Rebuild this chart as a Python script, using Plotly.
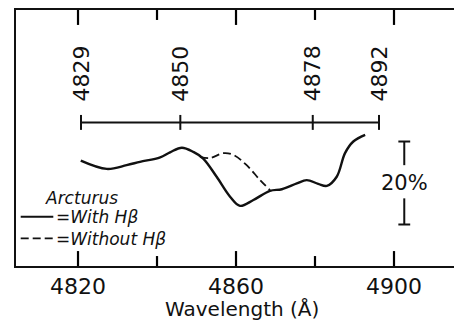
import plotly.graph_objects as go

# Arcturus spectrum near H-beta, relative intensity in percent
wavelength_with = [4820.7, 4827.3, 4832.3, 4835.7, 4840.8, 4843.3, 4846.3, 4849.2,
                   4851.7, 4855.1, 4858.5, 4861.0, 4864.4, 4868.6, 4871.6, 4875.4,
                   4877.9, 4880.8, 4883.0, 4885.5, 4887.6, 4889.7, 4892.7]
flux_with = [25.4, 23.4, 24.3, 25.1, 26.2, 27.4, 28.5, 27.5,
             25.9, 21.5, 16.7, 14.5, 15.9, 18.1, 18.5, 19.9,
             20.7, 19.8, 19.3, 21.5, 27.2, 30.0, 31.6]

wavelength_without = [4850.9, 4853.4, 4856.8, 4859.3, 4862.7, 4866.1, 4868.6]
flux_without = [26.3, 26.0, 27.2, 26.8, 24.3, 20.7, 18.3]

# bracket scale along the top
bracket_values = [4829, 4850, 4878, 4892]

# wavelength axis: labelled ticks, with unlabelled ticks between them
major_ticks = [4820, 4860, 4900]
minor_ticks = [4840, 4880]

# intensity scale bar (percent)
scale_bar_pct = 20

FONT = "DejaVu Sans"
INK = "#111111"
Y_MAX = 61.69

fig = go.Figure()

# spectrum with H-beta
fig.add_trace(go.Scatter(
    x=wavelength_with, y=flux_with, mode="lines",
    line=dict(color=INK, width=2.4, shape="spline", smoothing=1.0),
    hoverinfo="skip"))

# spectrum without H-beta
fig.add_trace(go.Scatter(
    x=wavelength_without, y=flux_without, mode="lines",
    line=dict(color=INK, width=1.8, shape="spline", smoothing=1.0, dash="8px,4px"),
    hoverinfo="skip"))

# bracket: horizontal bar with end/inner ticks, on its own top scale
bracket_y = 34.6
bracket_half = 1.8
bx, by = [bracket_values[0], bracket_values[-1], None], [bracket_y, bracket_y, None]
for v in bracket_values:
    bx += [v, v, None]
    by += [bracket_y - bracket_half, bracket_y + bracket_half, None]
fig.add_trace(go.Scatter(
    x=bx, y=by, xaxis="x2", yaxis="y", mode="lines",
    line=dict(color=INK, width=2), hoverinfo="skip"))

# 20% scale bar, split around its label
sb_x = 4902.6
sb_lo, sb_hi = 10.0, 10.0 + scale_bar_pct
sb_mid = (sb_lo + sb_hi) / 2
cap = 1.5
sx = [sb_x, sb_x, None, sb_x, sb_x, None,
      sb_x - cap, sb_x + cap, None, sb_x - cap, sb_x + cap]
sy = [sb_hi, sb_mid + 4.3, None, sb_mid - 3.7, sb_lo, None,
      sb_hi, sb_hi, None, sb_lo, sb_lo]
fig.add_trace(go.Scatter(x=sx, y=sy, mode="lines",
                         line=dict(color=INK, width=2), hoverinfo="skip"))

annotations = []
for v in bracket_values:
    annotations.append(dict(
        x=v, xref="x2", y=46.4, yref="y", text=str(v), textangle=-90,
        showarrow=False, font=dict(family=FONT, size=22, color=INK)))

annotations.append(dict(
    x=sb_x, y=sb_mid, xref="x", yref="y", text=f"{scale_bar_pct}%",
    showarrow=False, font=dict(family=FONT, size=21, color=INK)))

# key
def px(xp):
    return (xp - 16) / 438

def py(yp):
    return (266 - yp) / 256

italic = dict(family=FONT, size=17, color=INK, style="italic")
annotations += [
    dict(x=px(43), y=py(197.5), xref="paper", yref="paper", text="Arcturus",
         xanchor="left", yanchor="middle", showarrow=False, font=italic),
    dict(x=px(54), y=py(216.5), xref="paper", yref="paper", text="=With Hβ",
         xanchor="left", yanchor="middle", showarrow=False, font=italic),
    dict(x=px(54), y=py(238.5), xref="paper", yref="paper", text="=Without Hβ",
         xanchor="left", yanchor="middle", showarrow=False, font=italic),
    dict(x=px(241.7), y=py(308.5), xref="paper", yref="paper", text="Wavelength (Å)",
         xanchor="center", yanchor="middle", showarrow=False,
         font=dict(family=FONT, size=20, color=INK)),
]

shapes = [
    dict(type="line", xref="paper", yref="paper", x0=px(20.7), x1=px(53.3),
         y0=py(216.7), y1=py(216.7), line=dict(color=INK, width=2)),
    dict(type="line", xref="paper", yref="paper", x0=px(20.7), x1=px(55),
         y0=py(238.3), y1=py(238.3), line=dict(color=INK, width=1.8, dash="8px,4px")),
]

# inward tick marks on the bottom and top edges, placed on the wavelength scale
for values, length in ((major_ticks, 3.6), (minor_ticks, 2.4)):
    for v in values:
        for y0, y1 in ((0, length), (Y_MAX, Y_MAX - length)):
            shapes.append(dict(type="line", xref="x", yref="y", layer="above",
                               x0=v, x1=v, y0=y0, y1=y1,
                               line=dict(color="#000000", width=2.2)))

fig.update_layout(
    width=454, height=320,
    margin=dict(l=16, r=0, t=10, b=54),
    paper_bgcolor="white", plot_bgcolor="white",
    showlegend=False,
    annotations=annotations,
    shapes=shapes,
    xaxis=dict(
        range=[4804.3, 4915.19],
        tickmode="array", tickvals=major_ticks,
        ticktext=[str(t) for t in major_ticks],
        ticks="",
        showline=True, linewidth=2, linecolor=INK, mirror=True,
        showgrid=False, zeroline=False,
        tickfont=dict(family=FONT, size=22, color=INK),
    ),
    xaxis2=dict(range=[4815.26, 4907.86], overlaying="x", anchor="y",
                showline=False, ticks="", showticklabels=False,
                showgrid=False, zeroline=False),
    yaxis=dict(
        range=[0, Y_MAX],
        showline=True, linewidth=2, linecolor=INK, mirror=False,
        ticks="", showticklabels=False, showgrid=False, zeroline=False,
    ),
)

fig.write_html("out.html")
